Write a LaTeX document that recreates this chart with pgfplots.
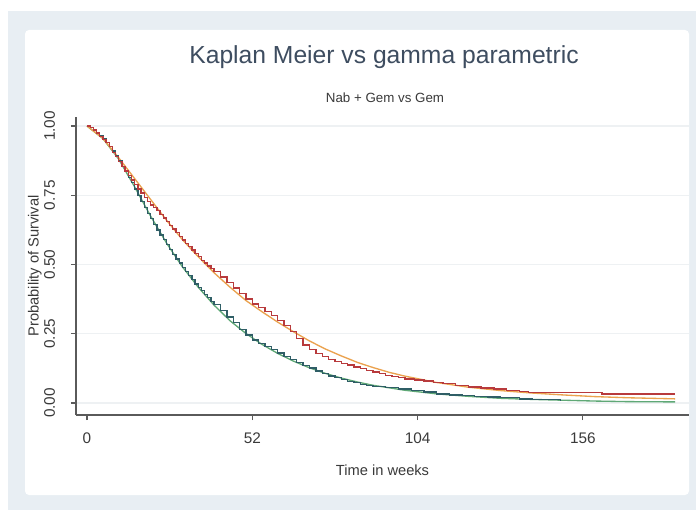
\documentclass[border=0pt]{standalone}
\usepackage{pgfplots}
\pgfplotsset{compat=1.18}
\usepackage{fontspec}
\setmainfont{Liberation Sans}
\definecolor{bgframe}{HTML}{E8EEF3}
\definecolor{titlecol}{HTML}{3E4D60}
\definecolor{txtcol}{HTML}{3A3A3A}
\definecolor{axcol}{HTML}{5A5A5A}
\definecolor{gridcol}{HTML}{EEF1F3}
\definecolor{kmred}{HTML}{B83A3C}
\definecolor{fitorange}{HTML}{EBA24E}
\definecolor{kmteal}{HTML}{2F5E66}
\definecolor{fitgreen}{HTML}{5FA876}

\pgfplotstableread{
t s
0 1.000
1 0.995
2 0.985
3 0.975
4 0.962
5 0.952
6 0.940
7 0.925
8 0.905
9 0.890
10 0.872
11 0.855
12 0.838
13 0.822
14 0.805
15 0.790
16 0.772
17 0.758
18 0.742
19 0.728
20 0.715
21 0.705
22 0.695
23 0.680
24 0.668
25 0.655
26 0.640
27 0.628
28 0.615
29 0.600
30 0.588
31 0.576
32 0.565
33 0.552
34 0.540
35 0.530
36 0.515
37 0.505
38 0.495
39 0.485
40 0.475
42 0.455
44 0.435
46 0.415
48 0.395
50 0.375
52 0.358
54 0.345
56 0.330
58 0.315
60 0.298
62 0.280
64 0.258
66 0.232
68 0.210
70 0.192
72 0.178
74 0.168
76 0.158
78 0.150
80 0.143
82 0.137
84 0.130
86 0.124
88 0.118
90 0.112
92 0.106
94 0.100
96 0.095
98 0.091
100 0.087
103 0.083
106 0.079
109 0.075
112 0.070
116 0.064
120 0.058
124 0.054
128 0.050
132 0.046
136 0.042
139 0.037
162 0.033
185 0.033
}\kmnab

\pgfplotstableread{
t s
0 1.000
5 0.955
10 0.885
15 0.810
20 0.735
25 0.660
30 0.590
35 0.528
40 0.470
45 0.418
50 0.370
55 0.330
60 0.292
65 0.257
70 0.224
75 0.195
80 0.170
85 0.147
90 0.128
95 0.111
100 0.097
110 0.074
120 0.057
130 0.045
140 0.036
150 0.029
160 0.023
170 0.019
185 0.015
}\fitnab

\pgfplotstableread{
t s
0 1.000
1 0.995
2 0.985
3 0.975
4 0.965
5 0.953
6 0.940
7 0.925
8 0.910
9 0.893
10 0.875
11 0.855
12 0.835
13 0.815
14 0.795
15 0.772
16 0.750
17 0.728
18 0.705
19 0.685
20 0.665
21 0.645
22 0.625
23 0.607
24 0.590
25 0.572
26 0.555
27 0.537
28 0.520
29 0.505
30 0.490
31 0.475
32 0.460
33 0.445
34 0.430
35 0.418
36 0.405
37 0.392
38 0.380
39 0.367
40 0.355
42 0.335
44 0.310
46 0.290
48 0.265
50 0.245
52 0.228
54 0.216
56 0.205
58 0.192
60 0.181
62 0.168
64 0.156
66 0.146
68 0.136
70 0.126
72 0.116
74 0.106
76 0.098
78 0.091
80 0.084
82 0.078
84 0.073
86 0.068
88 0.064
90 0.060
94 0.055
98 0.050
102 0.045
106 0.040
110 0.033
114 0.029
118 0.026
122 0.024
126 0.022
130 0.020
136 0.015
140 0.012
149 0.010
}\kmgem

\pgfplotstableread{
t s
0 1.000
5 0.955
10 0.880
15 0.780
20 0.675
25 0.578
30 0.492
35 0.418
40 0.353
45 0.297
50 0.251
55 0.212
60 0.179
65 0.151
70 0.127
75 0.107
80 0.090
85 0.076
90 0.064
100 0.046
110 0.033
120 0.024
130 0.017
140 0.013
150 0.010
160 0.007
170 0.005
185 0.004
}\fitgem

\begin{document}
\begin{tikzpicture}
\fill[white] (0pt,0pt) rectangle (522pt,-382.5pt);
\fill[bgframe] (6pt,-8.25pt) rectangle (522pt,-382.5pt);
\fill[white,rounded corners=3pt] (18.75pt,-22.5pt) rectangle (516.75pt,-371.25pt);
\node[text=titlecol,font=\fontsize{18.5}{20}\selectfont] at (288pt,-42.75pt) {Kaplan Meier vs gamma parametric};
\node[text=txtcol,font=\fontsize{10}{12}\selectfont] at (288.75pt,-73.5pt) {Nab + Gem vs Gem};
\begin{axis}[
  at={(57pt,-311.25pt)}, anchor=south west,
  scale only axis,
  width=459.75pt, height=223.5pt,
  xmin=-3.46, xmax=189.4,
  ymin=-0.0433, ymax=1.0325,
  axis x line*=bottom, axis y line*=left,
  axis line style={axcol,line width=0.9pt,-},
  xtick={0,52,104,156},
  ytick={0,0.25,0.5,0.75,1},
  yticklabels={0.00,0.25,0.50,0.75,1.00},
  tick align=outside,
  major tick length=3.75pt,
  tick style={axcol,line width=0.8pt},
  ymajorgrids,
  grid style={gridcol,line width=0.8pt},
  tick label style={text=txtcol,font=\fontsize{11.5}{13}\selectfont},
  /pgf/number format/assume math mode=true,
  yticklabel style={rotate=90,anchor=south},
  yticklabel shift=8.5pt,
  xticklabel shift=6pt,
  xlabel={Time in weeks},
  ylabel={Probability of Survival},
  label style={text=txtcol,font=\fontsize{11}{13}\selectfont},
  xlabel style={yshift=-9pt},
  ylabel style={yshift=-5pt},
  clip=false,
]
\addplot[fitgreen,line width=1pt] table[x=t,y=s] {\fitgem};
\addplot[fitorange,line width=1pt] table[x=t,y=s] {\fitnab};
\addplot[kmteal,line width=1pt,const plot] table[x=t,y=s] {\kmgem};
\addplot[kmred,line width=1pt,const plot] table[x=t,y=s] {\kmnab};
\end{axis}
\end{tikzpicture}
\end{document}
